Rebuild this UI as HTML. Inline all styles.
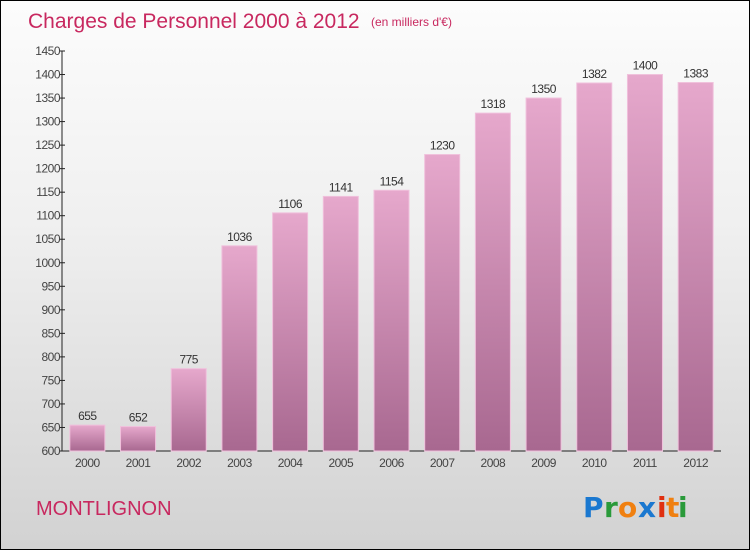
<!DOCTYPE html>
<html><head><meta charset="utf-8"><style>
body{margin:0;}
#wrap{position:relative;width:748px;height:548px;border:1px solid #000;background:linear-gradient(#fcfcfc,#f0f0f0 40%,#d2d2d2);overflow:hidden;font-family:"Liberation Sans",sans-serif;}
</style></head><body>
<div id="wrap">
<svg id="chart" width="748" height="548">
<defs>
<linearGradient id="bg" x1="0" y1="0" x2="0" y2="1"><stop offset="0" stop-color="#e6a8cc"/><stop offset="1" stop-color="#a86890"/></linearGradient>
</defs>
<text x="27" y="27" font-size="21" fill="#c8285f">Charges de Personnel 2000 à 2012</text>
<text x="370" y="25" font-size="12" fill="#c8285f">(en milliers d'€)</text>
<text x="35" y="514" font-size="20" fill="#c8285f">MONTLIGNON</text>
<g font-size="28" font-weight="bold" font-family="'DejaVu Sans',sans-serif">
<text x="582" y="516" fill="#1a78d0">P</text><text x="603" y="516" fill="#2a9a3a">r</text><text x="617" y="516" fill="#f08010">o</text><text x="637" y="516" fill="#1a78d0">x</text><text x="656" y="516" fill="#e03010">i</text><text x="665" y="516" fill="#f08010">t</text><text x="677" y="516" fill="#2a9a3a">i</text>
</g>
<g id="plot"></g>
</svg>
</div>
<script>
const categories=["2000","2001","2002","2003","2004","2005","2006","2007","2008","2009","2010","2011","2012"];
const values=[655,652,775,1036,1106,1141,1154,1230,1318,1350,1382,1400,1383];
const ticks=[600,650,700,750,800,850,900,950,1000,1050,1100,1150,1200,1250,1300,1350,1400,1450];
const NS="http://www.w3.org/2000/svg";
const g=document.getElementById('plot');
const x0=61,x1=720,yMin=600,yMax=1450,yB=450,yT=50;
const y=v=>yB-(v-yMin)/(yMax-yMin)*(yB-yT);
const band=(x1-x0)/categories.length;
const xc=i=>x0+band*(i+0.5);
function mk(t,a){const e=document.createElementNS(NS,t);for(const k in a)e.setAttribute(k,a[k]);g.appendChild(e);return e;}
const ax=mk('line',{x1:x0,y1:yT,x2:x0,y2:yB,stroke:'#222'});


const bx=mk('line',{x1:x0,y1:yB,x2:x1,y2:yB,stroke:'#222'});


ticks.forEach(t=>{
 const l=mk('line',{x1:x0-3,y1:y(t),x2:x0+3,y2:y(t),stroke:'#222'});
 
 
 const tx=mk('text',{x:x0-2,y:y(t)+4,'font-size':12,fill:'#444','text-anchor':'end','letter-spacing':'-0.5'});
 tx.textContent=t;
 
 
});
categories.forEach((c,i)=>{
 const v=values[i],w=35;
 const r=mk('rect',{x:xc(i)-w/2,y:y(v),width:w,height:yB-y(v),fill:'url(#bg)',stroke:'#f0c0dc','stroke-width':1});
 
 
 const vt=mk('text',{x:xc(i),y:y(v)-5,'font-size':12,fill:'#333','text-anchor':'middle','letter-spacing':'-0.5'});
 vt.textContent=v;
 
 
 const ct=mk('text',{x:xc(i),y:yB+16,'font-size':12,fill:'#444','text-anchor':'middle','letter-spacing':'-0.5'});
 ct.textContent=c;
 
 
});
</script>
</body></html>
